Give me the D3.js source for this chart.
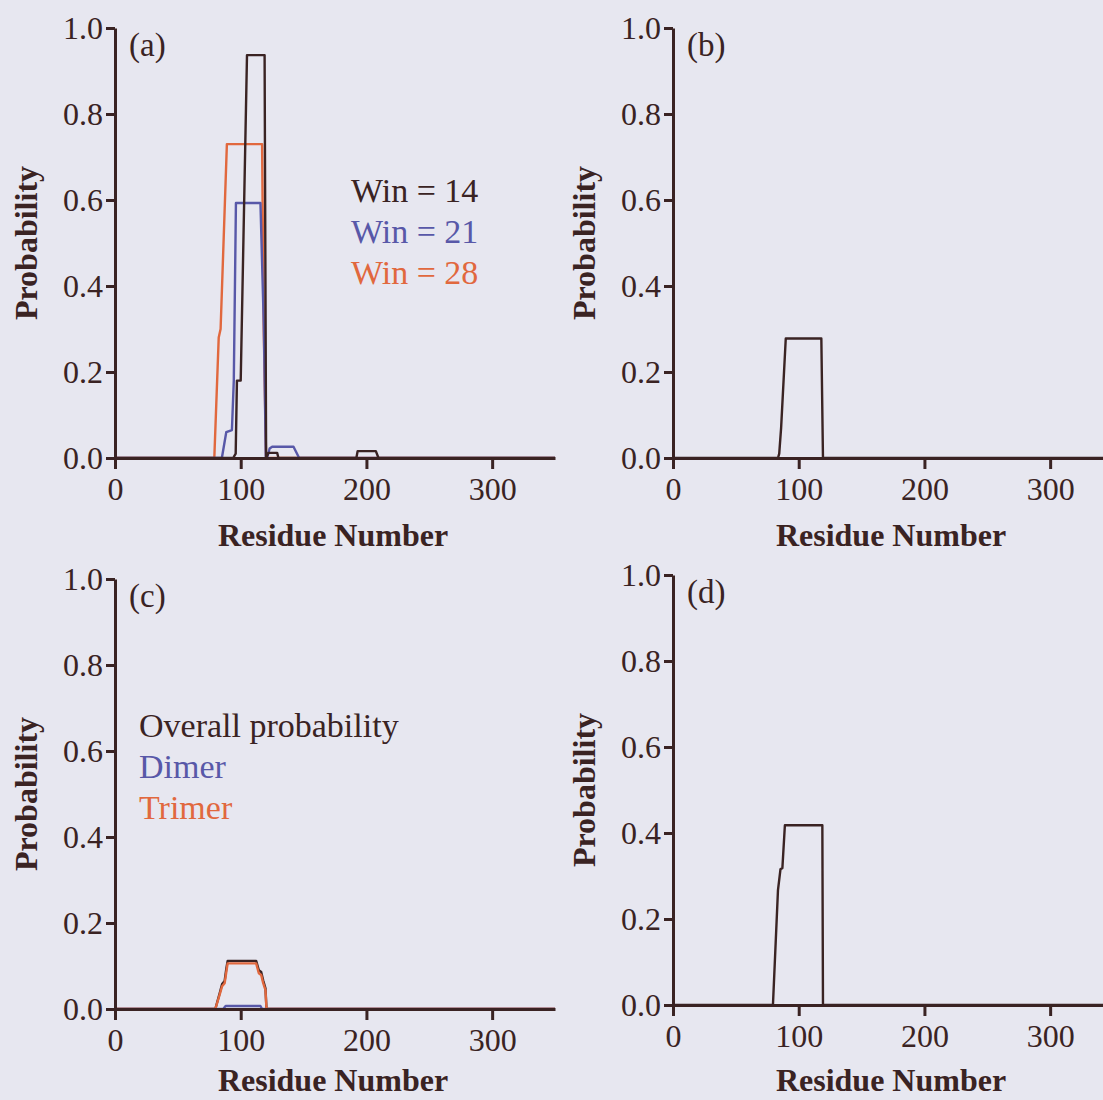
<!DOCTYPE html>
<html>
<head>
<meta charset="utf-8">
<script src="https://cdn.jsdelivr.net/npm/d3@7"></script>
<style>
  html, body { margin: 0; padding: 0; background: #e7e7f0; }
  svg { display: block; }
  text { font-family: "Liberation Serif", "Times New Roman", serif; fill: #3a2323; }
</style>
</head>
<body>
<svg id="chart" width="1103" height="1100"></svg>
<script>
// Residue-wise probability profiles: [residue, probability] breakpoints
const win14 = [[0,0],[94,0],[96,0.01],[97,0.18],[100,0.18],[105,0.937],[119,0.937],[120.2,0],[121,0.005],[122,0.012],[129,0.012],[130,0],[192,0],[193,0.016],[207.5,0.016],[209.6,0],[350,0]];
const win21 = [[0,0],[85,0],[88.5,0.06],[93,0.065],[94.5,0.18],[96.2,0.593],[115.7,0.593],[118.4,0.305],[120,0],[121,0],[123,0.022],[125,0.026],[142,0.026],[146.5,0],[350,0]];
const win28 = [[0,0],[79,0],[82.5,0.28],[84,0.3],[89,0.73],[117,0.73],[118.3,0.3],[120.2,0],[350,0]];

const panelB = [[0,0],[83.5,0],[84.5,0.01],[86,0.07],[89.7,0.278],[118,0.278],[119.3,0],[350,0]];

const overall = [[0,0],[79.8,0],[83.2,0.036],[85.2,0.058],[87.2,0.065],[88.6,0.095],[89.6,0.112],[112.3,0.112],[114.4,0.09],[116.3,0.086],[117.9,0.066],[119.7,0.048],[120.5,0],[350,0]];
const dimer = [[0,0],[86,0],[88,0.007],[115.7,0.007],[117,0],[350,0]];
const trimer = [[0,0],[79.8,0],[83.2,0.033],[85.2,0.053],[87.2,0.06],[88.6,0.087],[89.6,0.106],[112.3,0.106],[114.4,0.083],[116.3,0.079],[117.9,0.06],[119.7,0.044],[120.5,0],[350,0]];

const panelD = [[0,0],[79.5,0],[83.5,0.267],[85.5,0.316],[87,0.318],[89,0.418],[118.8,0.418],[119.3,0],[350,0]];

const xTicks = [0, 100, 200, 300];
const yTicks = [0, 0.2, 0.4, 0.6, 0.8, 1.0];
const legendA = ["Win = 14", "Win = 21", "Win = 28"];
const legendC = ["Overall probability", "Dimer", "Trimer"];

const DARK = "#3a2323", BLUE = "#5858a8", ORANGE = "#e1683e";

const svg = d3.select("#chart");

function panel(opts) {
  const x = d3.scaleLinear().domain([0, 350]).range([opts.left, opts.left + 440]);
  const y = d3.scaleLinear().domain([0, 1]).range([opts.bottom, opts.bottom - 430]);
  const g = svg.append("g");

  const line = d3.line().x(d => x(d[0])).y(d => y(d[1]));
  opts.series.forEach(s => {
    g.append("path").datum(s.data)
      .attr("d", line)
      .attr("fill", "none")
      .attr("stroke", s.color)
      .attr("stroke-width", 2.4)
      .attr("stroke-linejoin", "round");
  });

  const yAxis = g.append("g")
    .attr("transform", `translate(${opts.left},0)`)
    .call(d3.axisLeft(y).tickValues(yTicks).tickFormat(d3.format(".1f")).tickSize(9).tickSizeOuter(0).tickPadding(3));
  const xAxis = g.append("g")
    .attr("transform", `translate(0,${opts.bottom})`)
    .call(d3.axisBottom(x).tickValues(xTicks).tickFormat(d3.format("d")).tickSize(11).tickSizeOuter(0).tickPadding(8));

  [yAxis, xAxis].forEach(a => {
    a.select(".domain").attr("stroke", DARK).attr("stroke-width", 3);
    a.selectAll(".tick line").attr("stroke", DARK).attr("stroke-width", 3);
    a.selectAll(".tick text")
      .attr("font-family", "Liberation Serif, Times New Roman, serif")
      .attr("font-size", 32).attr("fill", DARK);
  });

  g.append("text")
    .attr("x", opts.left + 14).attr("y", opts.bottom - 402)
    .attr("font-size", 33)
    .text(opts.tag);

  g.append("text")
    .attr("transform", `translate(${opts.left - 78},${opts.bottom - 215}) rotate(-90)`)
    .attr("text-anchor", "middle")
    .attr("font-weight", "bold").attr("font-size", 32)
    .text("Probability");

  g.append("text")
    .attr("x", opts.left + 218).attr("y", Math.min(opts.bottom + 88, 1091))
    .attr("text-anchor", "middle")
    .attr("font-weight", "bold").attr("font-size", 32)
    .text("Residue Number");

  if (opts.legend) {
    opts.legend.labels.forEach((t, i) => {
      g.append("text")
        .attr("x", opts.legend.x).attr("y", opts.legend.y + i * 41)
        .attr("font-size", 34)
        .style("fill", opts.legend.colors[i])
        .text(t);
    });
  }
}

panel({
  left: 115, bottom: 458, tag: "(a)",
  series: [
    { data: win28, color: ORANGE },
    { data: win21, color: BLUE },
    { data: win14, color: DARK }
  ],
  legend: { labels: legendA, colors: [DARK, BLUE, ORANGE], x: 351, y: 202 }
});

panel({
  left: 673, bottom: 458, tag: "(b)",
  series: [{ data: panelB, color: DARK }]
});

panel({
  left: 115, bottom: 1009, tag: "(c)",
  series: [
    { data: overall, color: DARK },
    { data: dimer, color: BLUE },
    { data: trimer, color: ORANGE }
  ],
  legend: { labels: legendC, colors: [DARK, BLUE, ORANGE], x: 139, y: 737 }
});

panel({
  left: 673, bottom: 1005, tag: "(d)",
  series: [{ data: panelD, color: DARK }]
});
</script>
</body>
</html>
